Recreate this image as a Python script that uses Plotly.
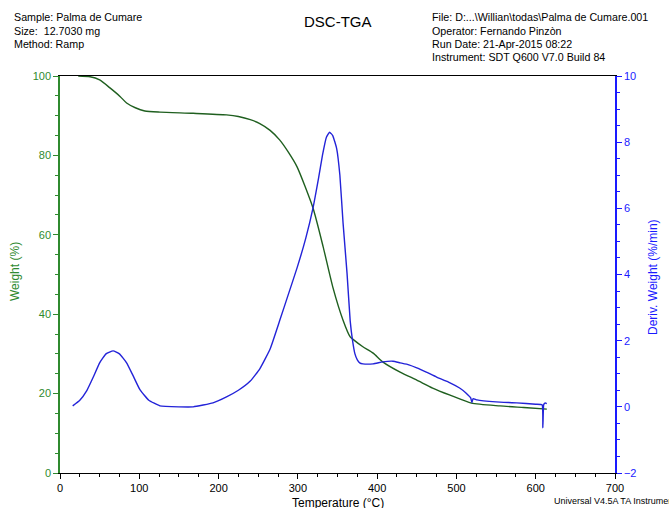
import plotly.graph_objects as go

# Weight curve (TGA)
temp_w = [23, 38, 50, 63, 76, 84, 95, 107, 126, 168, 210, 225, 240, 252, 265, 277, 288, 299, 319, 332, 344, 357, 366, 370, 382, 395, 407, 429, 450, 470, 492, 519, 555, 585, 614]
weight = [100, 99.8, 99.0, 97.0, 94.8, 93.2, 92.0, 91.2, 90.9, 90.6, 90.2, 89.8, 89.0, 88.0, 86.3, 83.9, 80.8, 77.1, 66.8, 56.9, 46.9, 38.5, 34.3, 33.6, 31.8, 30.2, 28.0, 25.4, 23.4, 21.4, 19.6, 17.6, 16.9, 16.5, 16.1]

# Derivative weight curve (DTG)
temp_d = [16, 25, 34, 42, 50, 58, 67, 75, 84, 92, 101, 112, 126, 150, 168, 193, 210, 225, 240, 252, 265, 277, 288, 299, 310, 319, 326, 331, 336, 340, 344, 349, 353, 357, 362, 366, 369, 372, 375, 378, 382, 395, 407, 420, 429, 440, 450, 462, 475, 490, 504, 512, 518, 519.5, 521, 526, 550, 576, 600, 608, 609, 610, 611, 612, 614]
deriv = [0.03, 0.2, 0.5, 0.9, 1.33, 1.6, 1.69, 1.6, 1.33, 0.95, 0.51, 0.2, 0.03, 0.0, 0.0, 0.12, 0.3, 0.5, 0.78, 1.15, 1.75, 2.6, 3.4, 4.2, 5.1, 6.0, 6.9, 7.6, 8.15, 8.3, 8.2, 7.8, 7.0, 5.56, 4.05, 2.6, 2.0, 1.6, 1.42, 1.33, 1.3, 1.3, 1.36, 1.38, 1.33, 1.27, 1.18, 1.05, 0.9, 0.75, 0.57, 0.42, 0.27, 0.13, 0.25, 0.21, 0.15, 0.12, 0.08, 0.06, -0.63, 0.06, 0.1, 0.12, 0.1]

x_ticks = [0, 100, 200, 300, 400, 500, 600, 700]

GREEN_AX = "#2f8a2f"
GREEN_LN = "#1f5f1f"
BLUE_AX = "#1a1aff"
BLUE_LN = "#2323d8"

fig = go.Figure()
fig.add_trace(go.Scatter(x=temp_w, y=weight, mode="lines",
                         line=dict(color=GREEN_LN, width=1.4, shape="spline", smoothing=0.6),
                         showlegend=False, yaxis="y"))
fig.add_trace(go.Scatter(x=temp_d, y=deriv, mode="lines",
                         line=dict(color=BLUE_LN, width=1.4, shape="spline", smoothing=0.4),
                         showlegend=False, yaxis="y2"))

FONT = "Arial, Liberation Sans, sans-serif"
tickfont = dict(family=FONT, size=11)

fig.update_layout(
    width=669, height=508,
    margin=dict(l=60, r=54, t=76, b=35),
    paper_bgcolor="white", plot_bgcolor="white",
    font=dict(family=FONT, size=11, color="black"),
    xaxis=dict(range=[0, 700], tickvals=x_ticks, ticks="outside", ticklen=5, tickcolor="black",
               showline=True, linecolor="black", linewidth=1, mirror=True, showgrid=False,
               zeroline=False, tickfont=dict(tickfont, color="black"),
               minor=dict(dtick=25, ticks="outside", ticklen=3, tickcolor="black")),
    yaxis=dict(range=[0, 100], dtick=20, ticks="outside", ticklen=5, tickcolor=GREEN_AX,
               showline=True, linecolor=GREEN_AX, linewidth=1.5, showgrid=False, zeroline=False,
               tickfont=dict(tickfont, color=GREEN_AX),
               minor=dict(dtick=5, ticks="outside", ticklen=3, tickcolor=GREEN_AX)),
    yaxis2=dict(range=[-2, 10], dtick=2, overlaying="y", side="right", anchor="x",
                ticks="outside", ticklen=5, tickcolor=BLUE_AX,
                showline=True, linecolor=BLUE_AX, linewidth=1.5, showgrid=False, zeroline=False,
                tickfont=dict(tickfont, color=BLUE_AX),
                minor=dict(dtick=0.5, ticks="outside", ticklen=3, tickcolor=BLUE_AX)),
)

ann = []
hdr = dict(family=FONT, size=10.7, color="black")
left_lines = ["Sample: Palma de Cumare", "Size:  12.7030 mg", "Method: Ramp"]
right_lines = ["File: D:...\\Willian\\todas\\Palma de Cumare.001", "Operator: Fernando Pinzòn",
               "Run Date: 21-Apr-2015 08:22", "Instrument: SDT Q600 V7.0 Build 84"]
for i, t in enumerate(left_lines):
    ann.append(dict(text=t, xref="paper", yref="paper", x=(12 - 60) / 555, y=(473 - 17 - 13.5 * i) / 397,
                    xanchor="left", yanchor="middle", showarrow=False, font=hdr))
for i, t in enumerate(right_lines):
    ann.append(dict(text=t, xref="paper", yref="paper", x=(430 - 60) / 555, y=(473 - 17 - 13.5 * i) / 397,
                    xanchor="left", yanchor="middle", showarrow=False, font=hdr))
ann.append(dict(text="DSC-TGA", xref="paper", yref="paper", x=(338 - 60) / 555, y=(473 - 22) / 397,
                xanchor="center", yanchor="middle", showarrow=False,
                font=dict(family=FONT, size=15, color="black")))
ann.append(dict(text="Weight (%)", xref="paper", yref="paper", x=(15 - 60) / 555, y=(473 - 272) / 397,
                xanchor="center", yanchor="middle", textangle=-90, showarrow=False,
                font=dict(family=FONT, size=12, color=GREEN_AX)))
ann.append(dict(text="Deriv. Weight (%/min)", xref="paper", yref="paper", x=(653 - 60) / 555, y=(473 - 277) / 397,
                xanchor="center", yanchor="middle", textangle=-90, showarrow=False,
                font=dict(family=FONT, size=12, color=BLUE_AX)))
ann.append(dict(text="Temperature (°C)", xref="paper", yref="paper", x=(338 - 60) / 555, y=(473 - 503) / 397,
                xanchor="center", yanchor="middle", showarrow=False,
                font=dict(family=FONT, size=12, color="black")))
ann.append(dict(text="Universal V4.5A TA Instruments", xref="paper", yref="paper", x=(552 - 60) / 555, y=(473 - 501) / 397,
                xanchor="left", yanchor="middle", showarrow=False,
                font=dict(family=FONT, size=9, color="black")))
fig.update_layout(annotations=ann)

fig.write_html("out.html", config={"displayModeBar": False},
               post_script="document.body.style.margin='0';document.body.style.overflow='hidden';")
